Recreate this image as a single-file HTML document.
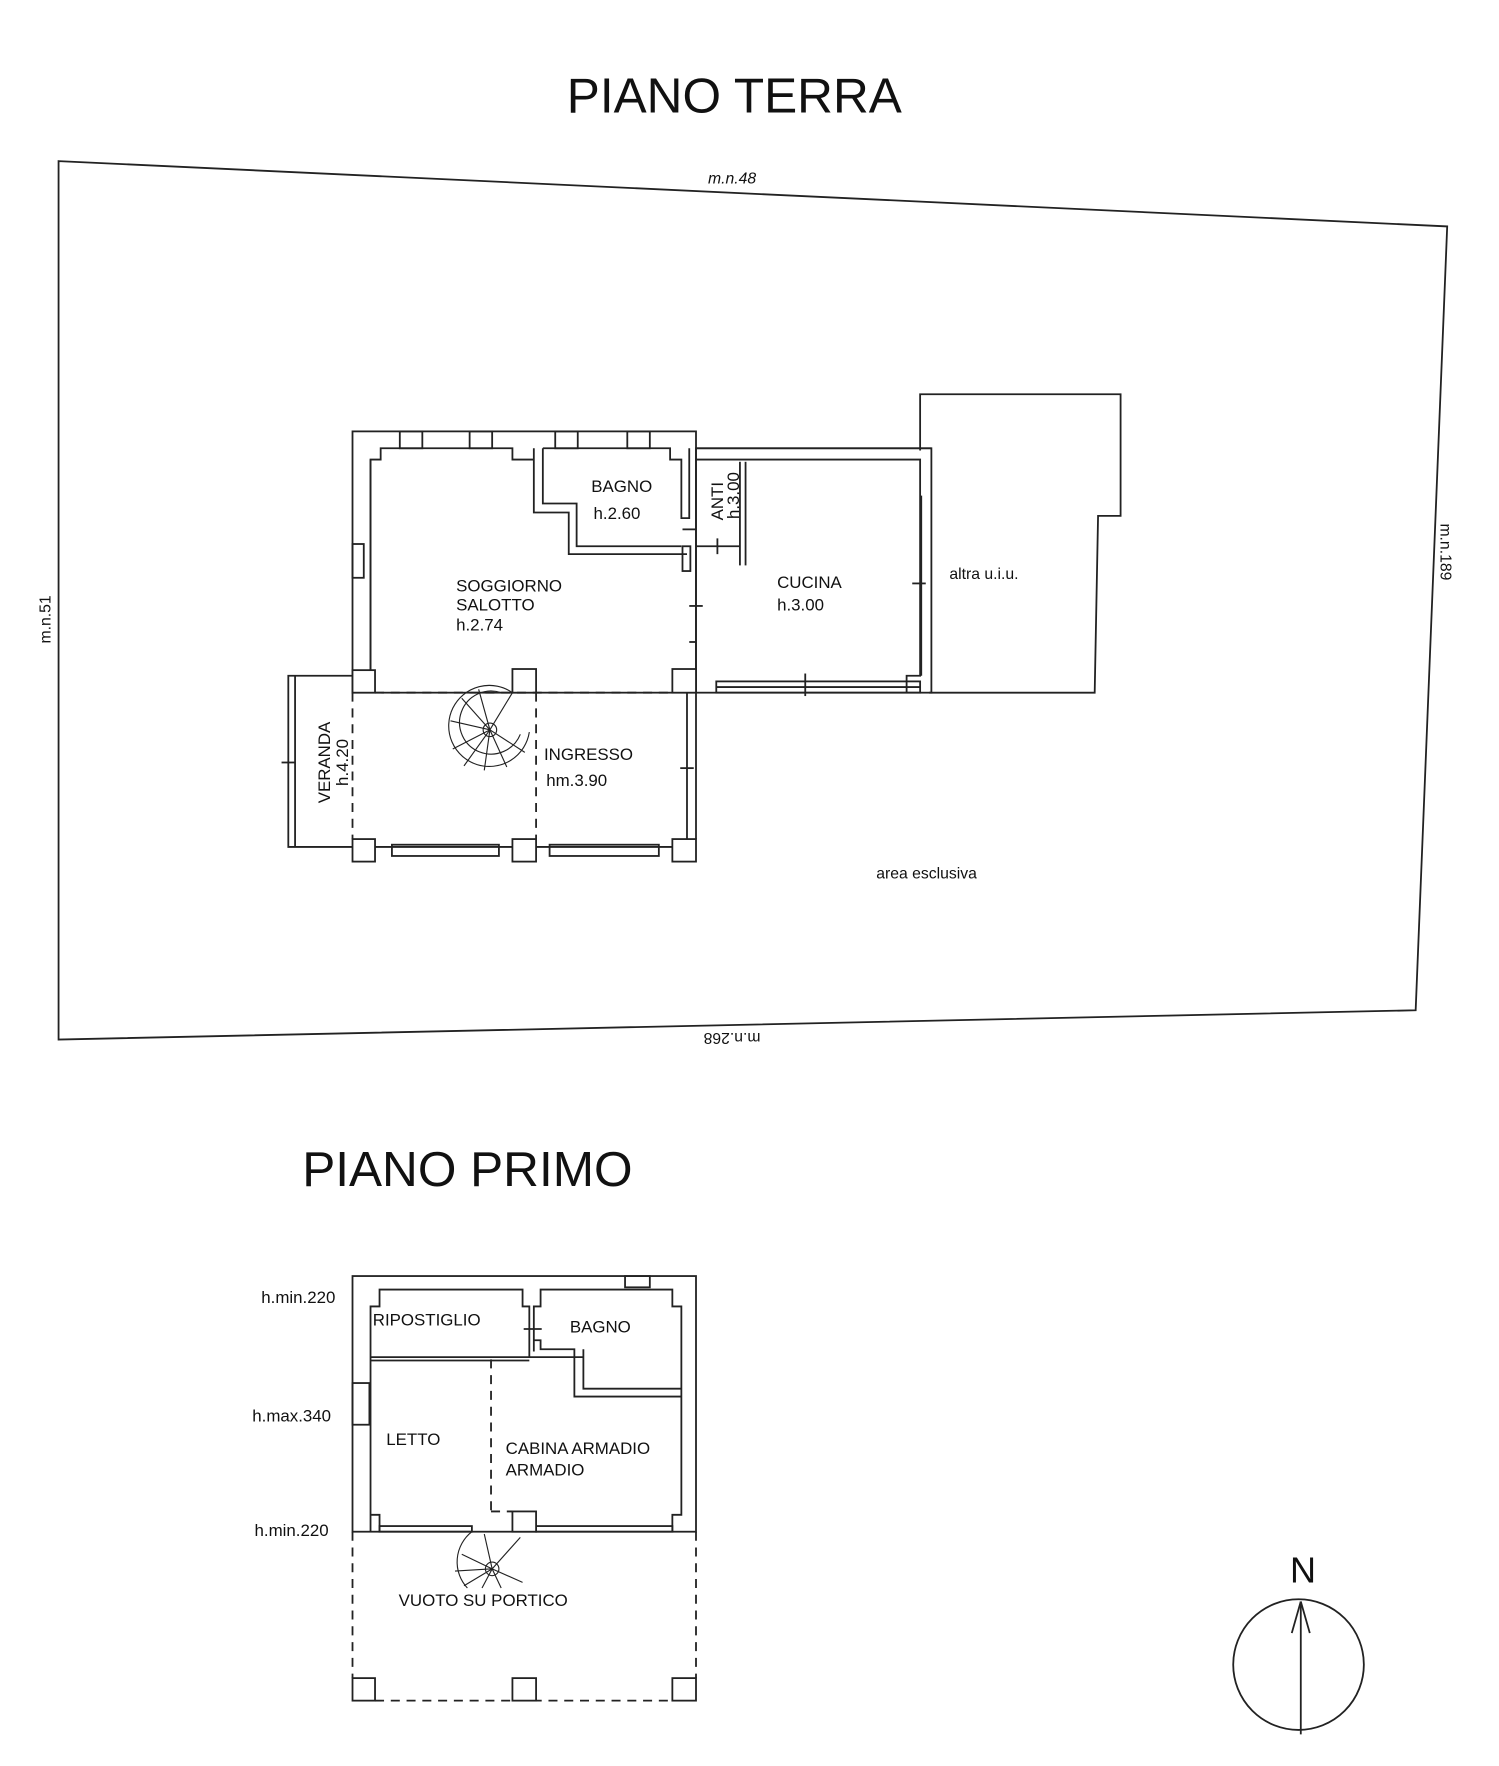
<!DOCTYPE html>
<html><head><meta charset="utf-8"><style>
html,body{margin:0;padding:0;background:#fff}
svg{display:block}
text{font-family:"Liberation Sans",sans-serif;fill:#111}
</style></head><body>
<svg width="1499" height="1766" viewBox="0 0 1331 1568" xmlns="http://www.w3.org/2000/svg">
<g stroke="#222" fill="none" stroke-width="1.6">
<polygon points="52,143 1285,201 1257,897 52,923"/>
<polyline points="817,400 817,350 995,350 995,458 975,458 972,615 825,615"/>
<line x1="618" y1="398" x2="827" y2="398"/>
<rect x="313" y="383" width="305" height="232"/>
<polyline points="329,600 329,408 338,408 338,398 455,398 455,408 474,408"/>
<polyline points="329,615 329,408"/>
<rect x="355" y="383" width="20" height="15"/><rect x="417" y="383" width="20" height="15"/>
<rect x="493" y="383" width="20" height="15"/><rect x="557" y="383" width="20" height="15"/>
<rect x="313" y="483" width="10" height="30"/>
<polyline points="474,398 474,455 505,455 505,492 610,492"/>
<polyline points="482,398 482,447 512,447 512,485 605,485"/>
<polyline points="482,398 595,398 595,408 605,408 605,460 612,460 612,398"/>
<rect x="606" y="485" width="7" height="22"/>
<line x1="606" y1="470" x2="618" y2="470"/>
<rect x="618" y="398" width="209" height="217"/>
<polyline points="618,408 817,408 817,600 805,600 805,615"/>
<line x1="657" y1="410" x2="657" y2="502"/><line x1="662" y1="410" x2="662" y2="502"/>
<line x1="618" y1="485" x2="657" y2="485"/><line x1="637" y1="478" x2="637" y2="492"/>
<line x1="818" y1="440" x2="818" y2="600"/>
<rect x="636" y="605" width="181" height="10"/><line x1="636" y1="610" x2="817" y2="610"/>
<line x1="715" y1="598" x2="715" y2="618"/>
<line x1="612" y1="538" x2="624" y2="538"/><line x1="612" y1="570" x2="618" y2="570"/>
<line x1="810" y1="518" x2="822" y2="518"/>
<rect x="313" y="595" width="20" height="20" fill="#fff"/>
<rect x="455" y="594" width="21" height="21" fill="#fff"/>
<rect x="597" y="594" width="21" height="21" fill="#fff"/>
<rect x="313" y="745" width="20" height="20" fill="#fff"/>
<rect x="455" y="745" width="21" height="20" fill="#fff"/>
<rect x="597" y="745" width="21" height="20" fill="#fff"/>
<line x1="610" y1="615" x2="610" y2="745"/><line x1="618" y1="615" x2="618" y2="745"/>
<line x1="604" y1="682" x2="616" y2="682"/>
<rect x="348" y="750" width="95" height="10"/><rect x="488" y="750" width="97" height="10"/>
<line x1="333" y1="752" x2="455" y2="752"/><line x1="476" y1="752" x2="597" y2="752"/>
<g stroke-dasharray="8,6">
<line x1="333" y1="615" x2="597" y2="615"/>
<line x1="313" y1="615" x2="313" y2="745"/>
<line x1="476" y1="615" x2="476" y2="745"/>
</g>
<polyline points="313,600 256,600 256,752 313,752"/>
<line x1="262" y1="600" x2="262" y2="752"/>
<line x1="250" y1="677" x2="262" y2="677"/>
<g stroke-width="1">
<path d="M455,615 A36,36 0 1 0 470,650"/>
<path d="M445,615 A28,28 0 1 0 462,652"/>
<circle cx="435" cy="648" r="6"/>
<line x1="435" y1="648" x2="400" y2="640"/><line x1="435" y1="648" x2="402" y2="665"/>
<line x1="435" y1="648" x2="412" y2="680"/><line x1="435" y1="648" x2="430" y2="684"/>
<line x1="435" y1="648" x2="450" y2="681"/><line x1="435" y1="648" x2="466" y2="668"/>
<line x1="435" y1="648" x2="410" y2="620"/><line x1="435" y1="648" x2="425" y2="612"/>
<line x1="435" y1="648" x2="455" y2="615"/>
</g>
<rect x="313" y="1133" width="305" height="227"/>
<polyline points="329,1360 329,1160 337,1160 337,1145 464,1145 464,1160 470,1160 470,1205"/>
<polyline points="474,1200 474,1160 480,1160 480,1145 597,1145 597,1160 605,1160 605,1345 597,1345 597,1360"/>
<polyline points="474,1190 480,1190 480,1198 510,1198 510,1240 605,1240"/>
<polyline points="518,1198 518,1233 605,1233"/>
<line x1="329" y1="1205" x2="518" y2="1205"/><line x1="329" y1="1208" x2="470" y2="1208"/>
<line x1="465" y1="1180" x2="481" y2="1180"/>
<rect x="555" y="1133" width="22" height="10"/>
<rect x="313" y="1228" width="15" height="37"/>
<polyline points="329,1345 337,1345 337,1360"/>
<rect x="337" y="1355" width="82" height="5"/>
<rect x="476" y="1355" width="121" height="5"/>
<rect x="455" y="1342" width="21" height="18" fill="#fff"/>
<g stroke-dasharray="8,6">
<line x1="436" y1="1207" x2="436" y2="1342"/><line x1="436" y1="1342" x2="455" y2="1342"/>
<line x1="313" y1="1360" x2="313" y2="1490"/>
<line x1="618" y1="1360" x2="618" y2="1490"/>
<line x1="333" y1="1510" x2="597" y2="1510"/>
</g>
<rect x="313" y="1490" width="20" height="20" fill="#fff"/>
<rect x="455" y="1490" width="21" height="20" fill="#fff"/>
<rect x="597" y="1490" width="21" height="20" fill="#fff"/>
<g stroke-width="1">
<path d="M419,1360 A34,34 0 0 0 415,1410"/>
<circle cx="437" cy="1393" r="6"/>
<line x1="437" y1="1393" x2="410" y2="1380"/><line x1="437" y1="1393" x2="404" y2="1395"/>
<line x1="437" y1="1393" x2="412" y2="1408"/><line x1="437" y1="1393" x2="428" y2="1410"/>
<line x1="437" y1="1393" x2="445" y2="1410"/><line x1="437" y1="1393" x2="464" y2="1405"/>
<line x1="437" y1="1393" x2="462" y2="1365"/><line x1="437" y1="1393" x2="430" y2="1362"/>
</g>
<circle cx="1153" cy="1478" r="58"/>
<line x1="1155" y1="1540" x2="1155" y2="1422"/>
<line x1="1155" y1="1422" x2="1147" y2="1450"/><line x1="1155" y1="1422" x2="1163" y2="1450"/>
</g>
<text x="652" y="100" font-size="44" text-anchor="middle">PIANO TERRA</text>
<text x="415" y="1053" font-size="44" text-anchor="middle">PIANO PRIMO</text>
<g font-size="14">
<text x="650" y="163" text-anchor="middle" font-style="italic">m.n.48</text>
<text transform="translate(1279,490) rotate(90)" text-anchor="middle">m.n.189</text>
<text transform="translate(45,550) rotate(-90)" text-anchor="middle">m.n.51</text>
<text transform="translate(650,917) rotate(180)" text-anchor="middle">m.n.268</text>
<text x="843" y="514">altra u.i.u.</text>
<text x="778" y="780">area esclusiva</text>
</g>
<g font-size="15">
<text x="525" y="437">BAGNO</text><text x="527" y="461">h.2.60</text>
<text transform="translate(642,445) rotate(-90)" text-anchor="middle">ANTI</text>
<text transform="translate(656,440) rotate(-90)" text-anchor="middle">h.3.00</text>
<text x="405" y="525">SOGGIORNO</text><text x="405" y="542">SALOTTO</text><text x="405" y="560">h.2.74</text>
<text x="690" y="522">CUCINA</text><text x="690" y="542">h.3.00</text>
<text x="483" y="675">INGRESSO</text><text x="485" y="698">hm.3.90</text>
<text transform="translate(293,677) rotate(-90)" text-anchor="middle">VERANDA</text>
<text transform="translate(309,677) rotate(-90)" text-anchor="middle">h.4.20</text>
<text x="232" y="1157">h.min.220</text>
<text x="224" y="1262">h.max.340</text>
<text x="226" y="1364">h.min.220</text>
<text x="331" y="1177">RIPOSTIGLIO</text>
<text x="506" y="1183">BAGNO</text>
<text x="343" y="1283">LETTO</text>
<text x="449" y="1291">CABINA ARMADIO</text>
<text x="449" y="1310">ARMADIO</text>
<text x="354" y="1426">VUOTO SU PORTICO</text>
</g>
<text x="1157" y="1405" font-size="32" text-anchor="middle">N</text>
</svg>
</body></html>
